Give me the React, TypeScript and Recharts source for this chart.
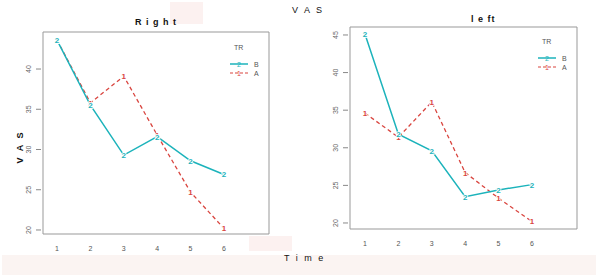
import { LineChart, Line, XAxis, YAxis, ReferenceArea } from 'recharts';

const times = [1, 2, 3, 4, 5, 6];
const rightB = [43.6, 35.5, 29.3, 31.6, 28.6, 26.9];
const rightA = [43.6, 35.8, 39.1, 31.8, 24.7, 20.2];
const leftB = [45.1, 31.8, 29.6, 23.5, 24.4, 25.1];
const leftA = [34.6, 31.4, 36.1, 26.7, 23.3, 20.2];
const rightTicks = [20, 25, 30, 35, 40];
const leftTicks = [20, 25, 30, 35, 40, 45];

const CYAN = '#1cb3bb';
const RED = '#d9453f';
const FONT = '"Liberation Sans", Arial, sans-serif';

const rows = (b: number[], a: number[]) => times.map((t, i) => ({ t, b: b[i], a: a[i] }));

const YTick = ({ x, y, payload }: any) => (
  <g>
    <line x1={x + 1} x2={x + 6} y1={y} y2={y} stroke="#888" />
    <text x={x - 4} y={y} transform={`rotate(-90 ${x - 4} ${y})`} textAnchor="middle"
      fontSize={7} fill="#666" fontFamily={FONT}>{payload.value}</text>
  </g>
);

const XTick = ({ x, y, payload }: any) => (
  <text x={x} y={y + 9} textAnchor="middle" fontSize={7} fill="#555" fontFamily={FONT}>{payload.value}</text>
);

const mark = (ch: string, color: string) => (p: any) => (
  <g key={`${ch}${p.index}`}>
    <text x={p.cx} y={p.cy + 3} textAnchor="middle" fontSize={8} fill={color}
      stroke="#fff" strokeWidth={1.5} paintOrder="stroke"
      fontFamily={FONT} fontWeight="bold">{ch}</text>
  </g>
);

interface PanelProps {
  b: number[];
  a: number[];
  yDomain: [number, number];
  xDomain: [number, number];
  yTicks: number[];
  margin: { top: number; right: number; bottom: number; left: number };
}

function Panel({ b, a, yDomain, xDomain, yTicks, margin }: PanelProps) {
  return (
    <LineChart width={300} height={278} data={rows(b, a)} margin={margin}>
      <XAxis dataKey="t" type="number" domain={xDomain} ticks={times} allowDataOverflow
        axisLine={false} tickLine={false} height={20} tick={<XTick />} interval={0} />
      <YAxis type="number" domain={yDomain} ticks={yTicks} allowDataOverflow width={20}
        axisLine={false} tickLine={false} tick={<YTick />} interval={0} />
      <ReferenceArea x1={xDomain[0]} x2={xDomain[1]} y1={yDomain[0]} y2={yDomain[1]}
        fill="none" stroke="#999" strokeWidth={1} ifOverflow="visible" />
      <Line dataKey="a" stroke={RED} strokeWidth={1.3} strokeDasharray="4 3"
        dot={mark('1', RED)} activeDot={false} isAnimationActive={false} />
      <Line dataKey="b" stroke={CYAN} strokeWidth={1.5}
        dot={mark('2', CYAN)} activeDot={false} isAnimationActive={false} />
    </LineChart>
  );
}

function Legend({ left, top }: { left: number; top: number }) {
  return (
    <div style={{ position: 'absolute', left, top, fontFamily: FONT, fontSize: 7, color: '#555' }}>
      <div style={{ marginLeft: 4, height: 16 }}>TR</div>
      <svg width={40} height={20} style={{ display: 'block' }}>
        <line x1={0} x2={18} y1={4} y2={4} stroke={CYAN} strokeWidth={1.5} />
        <text x={9} y={7} textAnchor="middle" fontSize={7} fill={CYAN}>2</text>
        <text x={24} y={7} fontSize={7} fill="#555">B</text>
        <line x1={0} x2={18} y1={13} y2={13} stroke={RED} strokeWidth={1.2} strokeDasharray="3 2" />
        <text x={9} y={16} textAnchor="middle" fontSize={7} fill={RED}>1</text>
        <text x={24} y={16} fontSize={7} fill="#555">A</text>
      </svg>
    </div>
  );
}

const label = (text: string, left: number, top: number, extra: React.CSSProperties = {}) => (
  <div style={{ position: 'absolute', left, top, fontFamily: FONT, fontSize: 9, color: '#111',
    letterSpacing: 4, whiteSpace: 'nowrap', ...extra }}>{text}</div>
);

export default function App() {
  return (
    <div style={{ position: 'absolute', left: 0, top: 0, width: 600, height: 278, background: '#fff', overflow: 'hidden' }}>
      <div style={{ position: 'absolute', left: 170, top: 2, width: 33, height: 22, background: '#fcf1f0' }} />
      <div style={{ position: 'absolute', left: 2, top: 255, width: 594, height: 20, background: '#fbf4f2' }} />
      <div style={{ position: 'absolute', left: 249, top: 236, width: 43, height: 15, background: '#fcf1f0' }} />
      <div style={{ position: 'absolute', left: 0, top: 0 }}>
        <Panel b={rightB} a={rightA} yDomain={[19.5, 44.6]} xDomain={[0.58, 7.35]} yTicks={rightTicks}
          margin={{ top: 32, right: 31, bottom: 24, left: 23 }} />
      </div>
      <div style={{ position: 'absolute', left: 300, top: 0 }}>
        <Panel b={leftB} a={leftA} yDomain={[19.2, 46.06]} xDomain={[0.55, 7.35]} yTicks={leftTicks}
          margin={{ top: 27, right: 23, bottom: 29, left: 30 }} />
      </div>
      <Legend left={230} top={44} />
      <Legend left={538} top={38} />
      {label('R i g h t', 135, 17, { fontWeight: 'bold', letterSpacing: 1 })}
      {label('l e ft', 471, 14, { fontWeight: 'bold', letterSpacing: 1 })}
      {label('V A S', 292, 5, { letterSpacing: 2 })}
      {label('T i m e', 284, 253, { letterSpacing: 2 })}
      <div style={{ position: 'absolute', left: 4, top: 142, transform: 'rotate(-90deg)', transformOrigin: 'center',
        fontFamily: FONT, fontSize: 9, fontWeight: 'bold', color: '#111', letterSpacing: 2, whiteSpace: 'nowrap' }}>V A S</div>
    </div>
  );
}
